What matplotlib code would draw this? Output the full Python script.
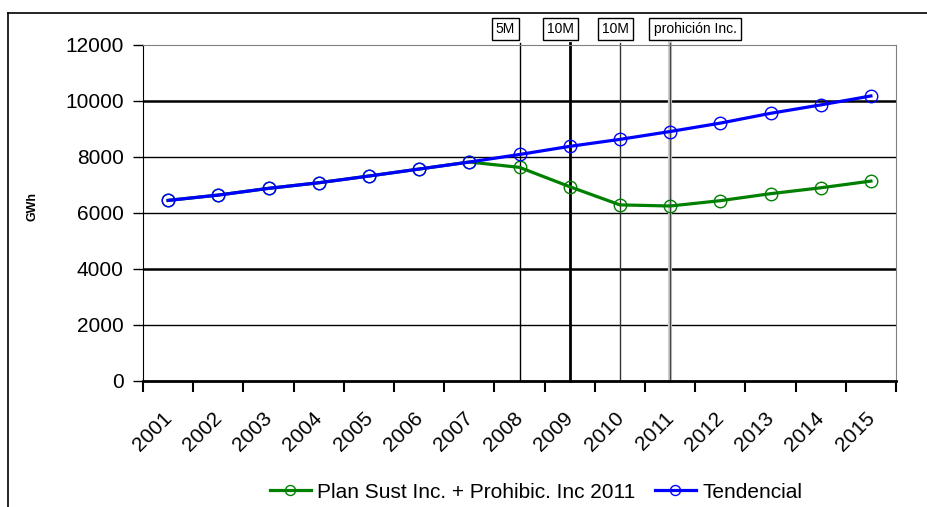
import matplotlib
matplotlib.use("Agg")
import matplotlib.pyplot as plt
from matplotlib.lines import Line2D
import matplotlib.transforms as mtrans

plt.rcParams['font.family'] = ['Liberation Sans', 'DejaVu Sans']

years = ['2001', '2002', '2003', '2004', '2005', '2006', '2007', '2008',
         '2009', '2010', '2011', '2012', '2013', '2014', '2015']
tendencial = [6450, 6640, 6880, 7080, 7320, 7570, 7820, 8090,
              8380, 8630, 8910, 9210, 9560, 9860, 10180]
plan = [6450, 6640, 6880, 7080, 7320, 7570, 7820, 7630,
        6940, 6290, 6250, 6440, 6690, 6900, 7140]
yticks = [0, 2000, 4000, 6000, 8000, 10000, 12000]
event_years = ['2008', '2009', '2010', '2011']
event_labels = ['5M', '10M', '10M', 'prohición Inc.']

W, H = 927, 507
fig = plt.figure(figsize=(W / 100, H / 100), dpi=100)
ax = fig.add_axes([143 / W, 1 - 381 / H, (896 - 143) / W, (381 - 45) / H])

x = list(range(len(years)))
ax.set_xlim(-0.5, len(years) - 0.5)
ax.set_ylim(0, 12000)

# gridlines
grid_w = {0: 0, 2000: 1.0, 4000: 1.8, 6000: 1.0, 8000: 1.0, 10000: 1.8, 12000: 0}
for v in yticks:
    if grid_w[v] > 0:
        ax.axhline(v, color='black', lw=grid_w[v], zorder=1)

# event vertical lines
styles = [dict(color='black', lw=1.0), dict(color='black', lw=2.0),
          dict(color='#333333', lw=1.0), dict(color='#444444', lw=1.0)]
for ey, st in zip(event_years, styles):
    xi = years.index(ey)
    if ey == '2011':
        ax.plot([xi, xi], [0, 12080], color='#d0d0d0', lw=3.0, clip_on=False, zorder=1.5)
    ax.plot([xi, xi], [0, 12080], clip_on=False, zorder=2, **st)

ax.plot(x, plan, color='#008000', lw=2.3, marker='o', ms=9, mfc='none',
        mec='#008000', mew=1.0, zorder=3, label='Plan Sust Inc. + Prohibic. Inc 2011')
ax.plot(x, tendencial, color='#0000ff', lw=2.3, marker='o', ms=9, mfc='none',
        mec='#0000ff', mew=1.0, zorder=4, label='Tendencial')

# axes styling
ax.spines['top'].set_color('#808080')
ax.spines['right'].set_color('#808080')
ax.spines['left'].set_color('black')
ax.spines['bottom'].set_color('black')
ax.spines['bottom'].set_linewidth(2.0)
ax.spines['bottom'].set_zorder(5)

ax.set_yticks(yticks)
ax.set_yticklabels([str(v) for v in yticks], fontsize=15)
ax.tick_params(axis='y', direction='out', length=7, width=1, pad=7, color='black')

ax.set_xticks(x)
ax.set_xticklabels(years, fontsize=15, rotation=45, ha='right', rotation_mode='anchor')
ax.tick_params(axis='x', which='major', length=0, pad=20)
ax.set_xticks([i + 0.5 for i in range(-1, len(years))], minor=True)
ax.tick_params(axis='x', which='minor', direction='out', length=8, width=1.5, color='black')
for lab in ax.get_xticklabels():
    lab.set_transform(lab.get_transform() + mtrans.ScaledTranslation(-6 / 100, 0, fig.dpi_scale_trans))

ax.set_ylabel('GWh', fontsize=9, fontweight='bold')
ax.yaxis.set_label_coords(-(143 - 38) / (896 - 143), 0.52)

# event labels (boxes above plot)
label_x = [505.5, 560.5, 615.5, 695]
for lx, t in zip(label_x, event_labels):
    fig.text(lx / W, 1 - 29 / H, t, fontsize=10, ha='center', va='center',
             bbox=dict(boxstyle='square,pad=0.3', fc='white', ec='black', lw=1.0))

# outer frame
fig.add_artist(Line2D([8 / W, 1.0], [1 - 13 / H, 1 - 13 / H], color='black', lw=1.2))
fig.add_artist(Line2D([8 / W, 8 / W], [0, 1 - 13 / H], color='black', lw=1.2))

fig.legend(loc='center', bbox_to_anchor=(536 / W, 1 - 492 / H), ncol=2, frameon=False,
           fontsize=15, handlelength=2.0, columnspacing=0.9, handletextpad=0.3,
           markerscale=0.8)

fig.savefig('out.png', dpi=100)
